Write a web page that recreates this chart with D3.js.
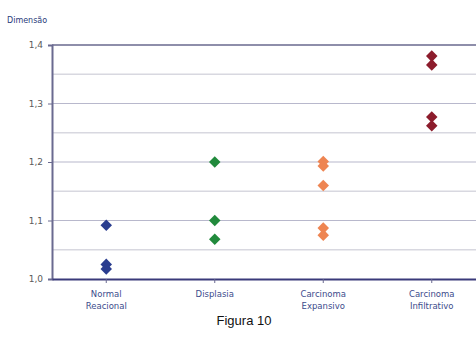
<!DOCTYPE html>
<html><head><meta charset="utf-8">
<script src="https://cdn.jsdelivr.net/npm/d3@7"></script>
<style>body{margin:0;background:#fff}</style>
</head><body>
<svg id="c" width="476" height="338"></svg>
<script>
const categories = ["Normal Reacional","Displasia","Carcinoma Expansivo","Carcinoma Infiltrativo"];
const normalReacional = [1.092, 1.025, 1.017];
const displasia = [1.200, 1.100, 1.068];
const carcinomaExpansivo = [1.201, 1.193, 1.160, 1.087, 1.075];
const carcinomaInfiltrativo = [1.381, 1.366, 1.277, 1.262];
const yTicks = [1.0, 1.1, 1.2, 1.3, 1.4];
const yMinor = [1.05, 1.15, 1.25, 1.35];
const colors = ["#2a3d8f","#218a3c","#ee8552","#8c1c2c"];
const series = [normalReacional, displasia, carcinomaExpansivo, carcinomaInfiltrativo];

const svg = d3.select("#c");
const m = {l:52, t:45, r:476, b:279};
const x = d3.scaleBand().domain(categories).range([m.l, m.l+434]);
const y = d3.scaleLinear().domain([1.0,1.4]).range([m.b, m.t]);

// gridlines
svg.append("g").selectAll("line").data(yMinor).join("line")
  .attr("x1", m.l).attr("x2", 476).attr("y1", d=>y(d)).attr("y2", d=>y(d))
  .attr("stroke","#d8d8e0").attr("stroke-width",1.5);
svg.append("g").selectAll("line").data(yTicks.slice(1)).join("line")
  .attr("x1", m.l).attr("x2", 476).attr("y1", d=>y(d)).attr("y2", d=>y(d))
  .attr("stroke", d=> d===1.4 ? "#8e8eaa" : "#b8b8cc").attr("stroke-width", d=> d===1.4 ? 2 : 1.2);

// y axis
const yAxis = d3.axisLeft(y).tickValues(yTicks).tickSize(4).tickFormat(d=>d3.format(".1f")(d).replace(".",","));
const ga = svg.append("g").attr("transform",`translate(${m.l},0)`).call(yAxis);
ga.select(".domain").attr("stroke","#6a6a90").attr("stroke-width",2);
ga.selectAll(".tick line").attr("stroke","#6a6a90");
ga.selectAll(".tick text").attr("fill","#5a5a5a").attr("font-family","Verdana, DejaVu Sans, sans-serif").attr("font-size",9).attr("x",-9);

// x axis
const xAxis = d3.axisBottom(x).tickSize(4).tickSizeOuter(0).tickFormat("");
const gx = svg.append("g").attr("transform",`translate(0,${m.b})`).call(xAxis);
gx.select(".domain").attr("stroke","#3a3a7a").attr("stroke-width",2);
gx.selectAll(".tick line").attr("stroke","#6a6a90");

// category labels
const catLines = [["Normal","Reacional"],["Displasia"],["Carcinoma","Expansivo"],["Carcinoma","Infiltrativo"]];
svg.append("g").selectAll("text").data(categories).join("text")
  .attr("x", d=>x(d)+x.bandwidth()/2).attr("y", 297)
  .attr("text-anchor","middle").attr("fill","#3c4c8c")
  .attr("font-family","Verdana, DejaVu Sans, sans-serif").attr("font-size",8.5)
  .each(function(d,i){
    d3.select(this).selectAll("tspan").data(catLines[i]).join("tspan")
      .attr("x", x(d)+x.bandwidth()/2).attr("dy",(t,j)=>j===0?0:11.5).text(t=>t);
  });

// points
const diamond = d3.symbol().type(d3.symbolDiamond2).size(85);
series.forEach((vals,i)=>{
  svg.append("g").selectAll("path").data(vals).join("path")
    .attr("d", diamond)
    .attr("transform", v=>`translate(${x(categories[i])+x.bandwidth()/2},${y(v)})`)
    .attr("fill", colors[i]);
});

// titles
svg.append("text").attr("x",7).attr("y",23).text("Dimensão")
  .attr("fill","#2a3a7a").attr("font-family","Verdana, DejaVu Sans, sans-serif").attr("font-size",8);
svg.append("text").attr("x",244).attr("y",325).attr("text-anchor","middle").text("Figura 10")
  .attr("fill","#111").attr("font-family","Liberation Sans, Arial, sans-serif").attr("font-size",13);
</script>
</body></html>
